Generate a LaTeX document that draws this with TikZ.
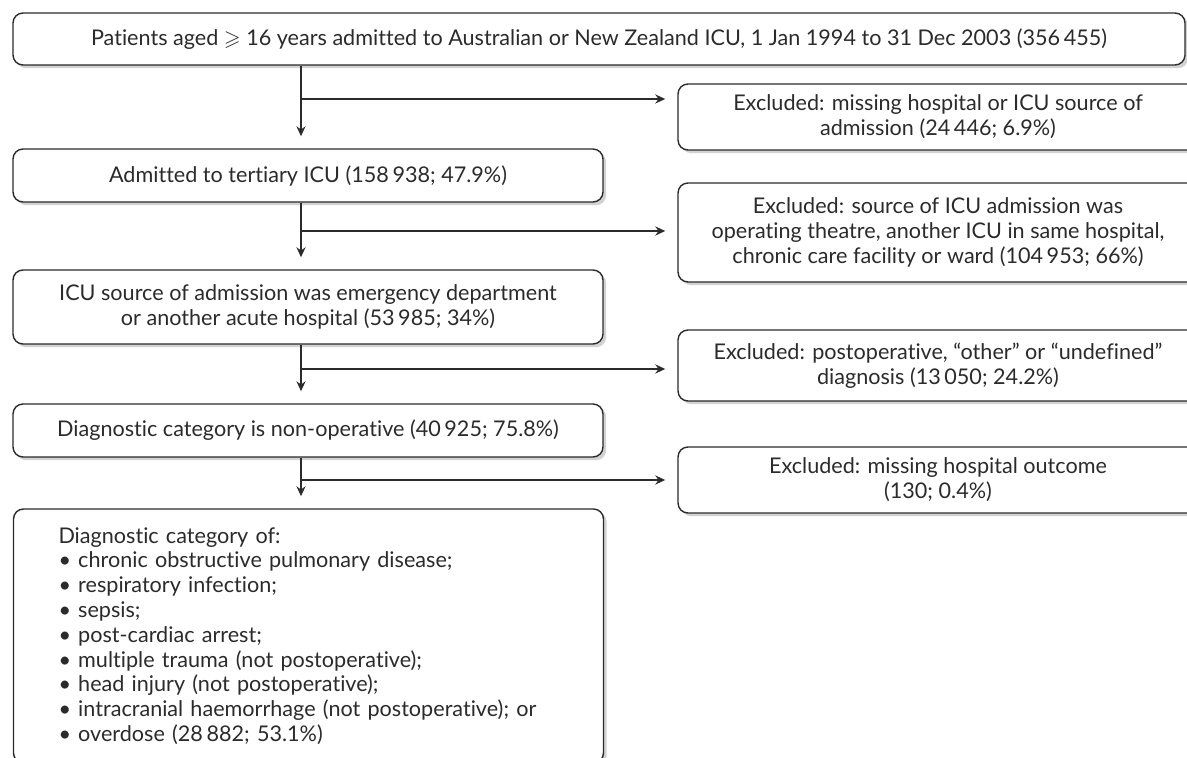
\documentclass[tikz,border=0pt]{standalone}
\usepackage{fontspec}
\usepackage{amssymb}
\setmainfont{Lato}[Ligatures={TeX,NoCommon}]
\usetikzlibrary{arrows.meta,shadows}
\definecolor{inkgray}{HTML}{2B2B2B}

\begin{document}
\begin{tikzpicture}[x=0.5pt,y=-0.5pt,>={Stealth[length=5pt,width=4.5pt]},
        font=\fontsize{10.8}{12.4}\selectfont,text=inkgray]
    \useasboundingbox (0,0) rectangle (1187,758);
    \tikzset{flowbox/.style={rectangle,rounded corners=5pt,draw=inkgray,line width=0.7pt,fill=white,
        drop shadow={shadow xshift=1.6pt,shadow yshift=-1.6pt,fill=black!35},align=center,inner sep=0pt}}
    \begin{scope}[every node/.style={flowbox,minimum width=295pt}]
        \node[minimum width=586pt,minimum height=26pt] (1) at (599, 39) {Patients aged $\geqslant$ 16 years admitted to Australian or New Zealand ICU, 1 Jan 1994 to 31 Dec 2003 (356\,455)};
        \node[minimum height=26.5pt] (2) at (308, 175.5) {Admitted to tertiary ICU (158\,938; 47.9\%)};
        \node[minimum height=37pt] (3) at (308, 307) {ICU source of admission was emergency department\\or another acute hospital (53\,985; 34\%)};
        \node[minimum height=26.5pt] (4) at (308, 430.5) {Diagnostic category is non-operative (40\,925; 75.8\%)};
        \node[minimum height=127pt,align=left,text width=250pt,inner xsep=22.5pt] (5) at (308.5, 636) {Diagnostic category of:\\
            \textbullet\ chronic obstructive pulmonary disease;\\
            \textbullet\ respiratory infection;\\
            \textbullet\ sepsis;\\
            \textbullet\ post-cardiac arrest;\\
            \textbullet\ multiple trauma (not postoperative);\\
            \textbullet\ head injury (not postoperative);\\
            \textbullet\ intracranial haemorrhage (not postoperative); or\\
            \textbullet\ overdose (28\,882; 53.1\%)};
    \end{scope}
    \begin{scope}[every node/.style={flowbox,minimum width=260pt}]
        \node[minimum height=33pt] (e1) at (938, 117) {Excluded: missing hospital or ICU source of\\admission (24\,446; 6.9\%)};
        \node[minimum height=49.5pt] (e2) at (938, 232.5) {Excluded: source of ICU admission was\\operating theatre, another ICU in same hospital,\\chronic care facility or ward (104\,953; 66\%)};
        \node[minimum height=35.5pt] (e3) at (938, 365.5) {Excluded: postoperative, “other” or “undefined”\\diagnosis (13\,050; 24.2\%)};
        \node[minimum height=33pt] (e4) at (938, 480) {Excluded: missing hospital outcome\\(130; 0.4\%)};
    \end{scope}

    \coordinate (b1) at (301, 99);
    \coordinate (b2) at (301, 231);
    \coordinate (b3) at (301, 369);
    \coordinate (b4) at (301, 480);

    \begin{scope}[draw=inkgray,line width=0.9pt,shorten >=6pt]
        \draw[->] (1.south -| b1) -- (2.north -| b1);
        \draw[->] (2.south -| b2) -- (3.north -| b2);
        \draw[->] (3.south -| b3) -- (4.north -| b3);
        \draw[->] (4.south -| b4) -- (5.north -| b4);
        \draw[->] (b1) -- (b1 -| e1.west);
        \draw[->] (b2) -- (b2 -| e2.west);
        \draw[->] (b3) -- (b3 -| e3.west);
        \draw[->] (b4) -- (b4 -| e4.west);
    \end{scope}
\end{tikzpicture}
\end{document}
